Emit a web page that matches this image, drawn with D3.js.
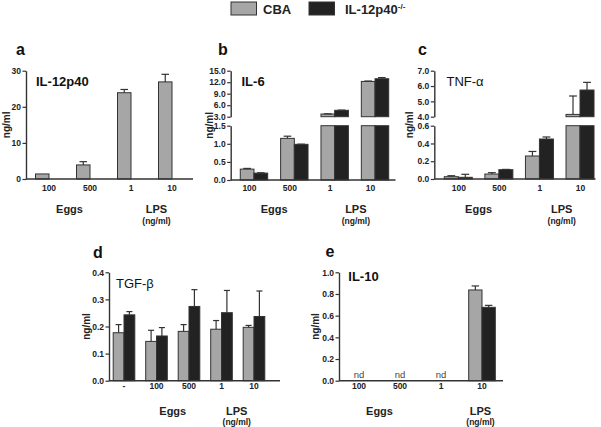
<!DOCTYPE html>
<html><head><meta charset="utf-8">
<script src="https://cdn.jsdelivr.net/npm/d3@7"></script>
<style>
body{margin:0;background:#fff}
svg{display:block;font-family:"Liberation Sans",Arial,sans-serif}
</style>
</head><body>
<svg id="chart" width="601" height="427"></svg>
<script>
// ---------- data ----------
const seriesNames = ["CBA", "IL-12p40"];
const catsStim = ["100", "500", "1", "10"];
const catsTGF = ["-", "100", "500", "1", "10"];

const il12_cba     = [1.4, 3.9, 23.9, 26.9];
const il12_cba_err = [1.4, 4.8, 24.8, 29.0];
const il12_ko      = [0, 0, 0, 0];
const il12_ko_err  = [0, 0, 0, 0];

const il6_cba     = [0.30, 1.15, 3.7, 12.2];
const il6_cba_err = [0.32, 1.21, 3.75, 12.3];
const il6_ko      = [0.19, 0.985, 4.67, 12.9];
const il6_ko_err  = [0.20, 0.99, 4.72, 13.2];

const tnf_cba     = [0.026, 0.056, 0.259, 4.15];
const tnf_cba_err = [0.037, 0.071, 0.31, 5.35];
const tnf_ko      = [0.019, 0.105, 0.45, 5.74];
const tnf_ko_err  = [0.053, 0.108, 0.473, 6.24];

const tgf_cba     = [0.177, 0.145, 0.182, 0.19, 0.197];
const tgf_cba_err = [0.207, 0.186, 0.207, 0.222, 0.204];
const tgf_ko      = [0.243, 0.165, 0.274, 0.251, 0.237];
const tgf_ko_err  = [0.255, 0.196, 0.336, 0.333, 0.331];

const il10_cba     = [null, null, null, 0.837];
const il10_cba_err = [null, null, null, 0.874];
const il10_ko      = [null, null, null, 0.677];
const il10_ko_err  = [null, null, null, 0.695];

const ticksA = [0, 10, 20, 30];
const ticksBlow = [0, 0.5, 1.0, 1.5], ticksBhigh = [3, 6, 9, 12, 15];
const ticksClow = [0, 0.2, 0.4, 0.6], ticksChigh = [4, 5, 6, 7];
const ticksD = [0, 0.1, 0.2, 0.3, 0.4];
const ticksE = [0, 0.2, 0.4, 0.6, 0.8, 1.0];

// ---------- style ----------
const colGray = "#a6a6a6", colBlack = "#222222", colLine = "#333333";
const svg = d3.select("#chart");

// ---------- layout (positions only) ----------
const panels = [
  {letter:"a", title:"IL-12p40", tw:"bold", cats:catsStim, vals:[il12_cba, il12_ko], errs:[il12_cba_err, il12_ko_err],
   ax:26, xr:[28.5,192.5], xEnd:193, gw:27, fmt:d3.format("d"),
   segs:[{d:[0,30], r:[179,70.7], t:ticksA}],
   lx:16, ly:55, tx:36, ty:86, ylx:6, lblY:194, grpY:213, unitY:224, lblDx:0, lpsDx:5},
  {letter:"b", title:"IL-6", tw:"bold", cats:catsStim, vals:[il6_cba, il6_ko], errs:[il6_cba_err, il6_ko_err],
   ax:230.7, xr:[233.8,395.2], xEnd:395.5, gw:27.4, fmt:d3.format(".1f"),
   segs:[{d:[0,1.5], r:[180,125.7], t:ticksBlow},{d:[3,15], r:[116.7,70.7], t:ticksBhigh}],
   lx:218, ly:55, tx:241.5, ty:86, ylx:209, lblY:194, grpY:213, unitY:224, lblDx:-4.5, lpsDx:1},
  {letter:"c", title:"TNF-\u03b1", tw:"normal", cats:catsStim, vals:[tnf_cba, tnf_ko], errs:[tnf_cba_err, tnf_ko_err],
   ax:434.3, xr:[438,600.3], xEnd:595.5, gw:28, fmt:d3.format(".1f"),
   segs:[{d:[0,0.6], r:[179,125.7], t:ticksClow},{d:[4,7], r:[116.7,70.7], t:ticksChigh}],
   lx:418, ly:55, tx:446.5, ty:85.5, ylx:409, lblY:194, grpY:213, unitY:224, lblDx:0.5, lpsDx:2},
  {letter:"d", title:"TGF-\u03b2", tw:"normal", cats:catsTGF, vals:[tgf_cba, tgf_ko], errs:[tgf_cba_err, tgf_ko_err],
   ax:109, xr:[107.75,270.25], xEnd:280, gw:21.6, fmt:d3.format(".1f"),
   segs:[{d:[0,0.4], r:[380.7,272.3], t:ticksD}],
   lx:93, ly:257.5, tx:116, ty:288, ylx:86, lblY:392, grpY:415, unitY:424.5, lblDx:0, lpsDx:-1},
  {letter:"e", title:"IL-10", tw:"bold", cats:catsStim, vals:[il10_cba, il10_ko], errs:[il10_cba_err, il10_ko_err],
   ax:339, xr:[338.5,502.5], xEnd:503, gw:26.6, fmt:d3.format(".1f"),
   segs:[{d:[0,1], r:[380.7,272.3], t:ticksE}],
   lx:325.5, ly:257, tx:348.3, ty:281, ylx:315, lblY:392, grpY:415, unitY:424.5, lblDx:0, lpsDx:19, nd:true}
];

function drawPanel(p) {
  const g = svg.append("g");
  const x = d3.scaleBand().domain(p.cats).range(p.xr);
  const xs = d3.scaleBand().domain(seriesNames).range([-p.gw/2, p.gw/2]);
  const scales = p.segs.map(s => d3.scaleLinear().domain(s.d).range(s.r));
  const cx = c => x(c) + x.bandwidth()/2;
  const y0 = scales[0](0);

  // bars
  seriesNames.forEach((sn, si) => {
    p.cats.forEach((c, ci) => {
      const v = p.vals[si][ci];
      if (v == null || v <= 0) return;
      let topSeg = 0;
      p.segs.forEach((s, k) => {
        if (v <= s.d[0] && k > 0) return;
        topSeg = k;
        const lo = s.d[0], hi = Math.min(v, s.d[1]);
        const yl = scales[k](lo), yh = scales[k](hi);
        g.append("rect")
          .attr("x", cx(c) + xs(sn)).attr("width", xs.bandwidth())
          .attr("y", yh).attr("height", Math.max(0, yl - yh))
          .attr("fill", si === 0 ? colGray : colBlack)
          .attr("stroke", colLine).attr("stroke-width", 1);
      });
      const e = p.errs[si][ci];
      if (e != null && e > v) {
        const sc = scales[topSeg];
        const bx = cx(c) + xs(sn) + xs.bandwidth()/2;
        g.append("line").attr("x1", bx).attr("x2", bx)
          .attr("y1", sc(v)).attr("y2", sc(e))
          .attr("stroke", colLine).attr("stroke-width", 1.2);
        g.append("line").attr("x1", bx - xs.bandwidth()*0.28).attr("x2", bx + xs.bandwidth()*0.28)
          .attr("y1", sc(e)).attr("y2", sc(e))
          .attr("stroke", colLine).attr("stroke-width", 1.2);
      }
    });
  });

  // nd labels
  if (p.nd) {
    p.cats.forEach((c, ci) => {
      if (p.vals[0][ci] == null) {
        g.append("text").attr("x", cx(c)).attr("y", y0 - 2.5)
          .attr("text-anchor", "middle").attr("font-size", 9.5)
          .attr("fill", "#444").text("nd");
      }
    });
  }

  // y axes (segments)
  p.segs.forEach((s, k) => {
    const ax = g.append("g").attr("transform", `translate(${p.ax},0)`)
      .call(d3.axisLeft(scales[k]).tickValues(s.t).tickSize(3.5).tickSizeOuter(0)
        .tickPadding(1.5).tickFormat(p.fmt));
    ax.selectAll("path.domain").attr("stroke", colLine).attr("stroke-width", 1.4);
    ax.selectAll(".tick line").attr("stroke", colLine).attr("stroke-width", 1.2);
    ax.selectAll(".tick text").attr("font-size", 8.5).attr("font-weight", "bold")
      .attr("fill", "#222").attr("font-family", "Liberation Sans, Arial, sans-serif");
  });

  // x axis line
  g.append("line").attr("x1", p.ax).attr("x2", p.xEnd).attr("y1", y0).attr("y2", y0)
    .attr("stroke", colLine).attr("stroke-width", 1.5);

  // category labels via axisBottom
  const xa = g.append("g").attr("transform", `translate(${p.lblDx},${p.lblY - 9.5})`)
    .call(d3.axisBottom(x).tickSize(0).tickPadding(0));
  xa.select("path.domain").remove();
  xa.selectAll(".tick text").attr("font-size", 8.5).attr("font-weight", "bold")
    .attr("fill", "#222").attr("font-family", "Liberation Sans, Arial, sans-serif")
    .attr("dy", "0.71em");

  // group labels
  const eggsX = (cx(p.cats[p.cats.length-4]) + cx(p.cats[p.cats.length-3])) / 2;
  const lpsX = (cx(p.cats[p.cats.length-2]) + cx(p.cats[p.cats.length-1])) / 2 + p.lpsDx;
  g.append("text").attr("x", eggsX).attr("y", p.grpY).attr("text-anchor", "middle")
    .attr("font-size", 11).attr("font-weight", "bold").attr("fill", "#222").text("Eggs");
  g.append("text").attr("x", lpsX).attr("y", p.grpY).attr("text-anchor", "middle")
    .attr("font-size", 11).attr("font-weight", "bold").attr("fill", "#222").text("LPS");
  g.append("text").attr("x", lpsX).attr("y", p.unitY).attr("text-anchor", "middle")
    .attr("font-size", 8.5).attr("font-weight", "bold").attr("fill", "#222").text("(ng/ml)");

  // y label
  const yMid = (p.segs[0].r[0] + p.segs[p.segs.length-1].r[1]) / 2;
  g.append("text").attr("transform", `translate(${p.ylx + 3.5},${yMid}) rotate(-90)`)
    .attr("text-anchor", "middle").attr("font-size", 10).attr("font-weight", "bold")
    .attr("fill", "#222").text("ng/ml");

  // panel letter and title
  g.append("text").attr("x", p.lx).attr("y", p.ly).attr("font-size", 16).attr("font-weight", "bold")
    .attr("fill", "#111").text(p.letter);
  g.append("text").attr("x", p.tx).attr("y", p.ty).attr("font-size", 13).attr("font-weight", p.tw)
    .attr("fill", "#111").text(p.title);
}

panels.forEach(drawPanel);

// legend
const leg = svg.append("g");
const legItems = [
  {name: seriesNames[0], col: colGray, rx: 231, tx: 263},
  {name: seriesNames[1], col: colBlack, rx: 309, tx: 345}
];
legItems.forEach((d, i) => {
  leg.append("rect").attr("x", d.rx).attr("y", 2).attr("width", 25.5).attr("height", 13)
    .attr("fill", d.col).attr("stroke", colLine).attr("stroke-width", 1);
  const t = leg.append("text").attr("x", d.tx).attr("y", 14).attr("font-size", 13)
    .attr("font-weight", "bold").attr("fill", "#222").text(d.name);
  if (i === 1) t.append("tspan").attr("dy", -5).attr("font-size", 8).text("-/-");
});
</script>
</body></html>
